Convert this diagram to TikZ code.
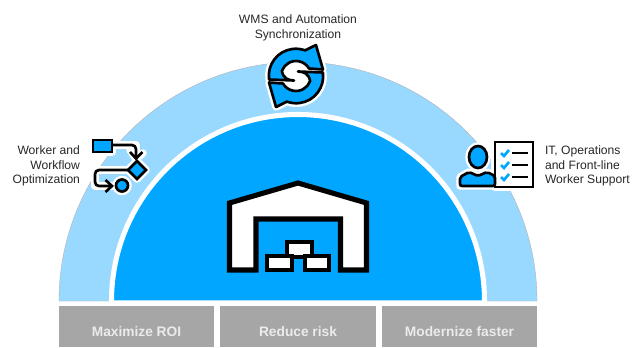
\documentclass[tikz,border=0pt]{standalone}
\usepackage{fontspec}
\setmainfont{Liberation Sans}
\definecolor{darkblue}{HTML}{00A6FF}
\definecolor{lightblue}{HTML}{99D9FF}
\definecolor{bargray}{HTML}{A6A6A6}
\definecolor{labeltext}{HTML}{262626}
\tikzset{
  halo/.style={draw=white,line width=5.6pt,line join=round,line cap=round},
  ink/.style={draw=black,line width=2pt,line join=miter},
  wire/.style={draw=black,line width=2pt,rounded corners=3},
  sidelabel/.style={text=labeltext,font=\fontsize{9.1}{11.1}\selectfont,inner sep=0,outer sep=0},
  bar/.style={fill=bargray,text=white!92!black,font=\fontsize{10.3}{11}\bfseries\selectfont,
    minimum width=#1*0.75pt,minimum height=41*0.75pt,inner sep=0,outer sep=0,
    text height=14.25pt,text depth=0pt}
}
\tikzset{warehouse/.pic={
        code={
        \draw[draw=black,fill=white,line width=3.8pt,line join=miter] (-68.5,37) -- (-68.5,-30) -- (0,-50) -- (68.5,-30) -- (68.5,37)
            -- (42.5,37) -- (42.5,-14) -- (-42,-14) -- (-42,37) -- cycle;
        \draw[draw=black,fill=white,line width=3.2pt] (-11,9) rectangle (14,24);
        \draw[draw=black,fill=white,line width=3.2pt] (-31,23) rectangle (-6,37);
        \draw[draw=black,fill=white,line width=3.2pt] (7,23) rectangle (31,37);
 	}
  }
}
\tikzset{syncicon/.pic={
        code={
        \foreach \a in {0,180} {
            \path[halo,rotate=\a] (-26.9,3.5) arc (172:290:27) -- (20,-31) -- (27,-6.5) -- (13,-7.5) arc (330:200:15)
                .. controls (-13,2) and (-8,4.5) .. (-2,4.5) -- cycle;
        }
        \fill[white] (0,0) circle (16);
        \foreach \a in {0,180} {
            \path[ink,line join=round,fill=darkblue,rotate=\a] (-26.9,3.5) arc (172:290:27) -- (20,-31) -- (27,-6.5) -- (13,-7.5) arc (330:200:15)
                .. controls (-13,2) and (-8,4.5) .. (-2,4.5) -- cycle;
        }
 	}
  }
}
\tikzset{flowicon/.pic={
        code={
        % halo
        \draw[halo] (-22,-20) rectangle (-3,-8);
        \draw[halo] (-3,-15) -- (21,-15) -- (21,-1);
        \draw[halo] (15,-10) -- (21,-1) -- (28,-7);
        \draw[halo] (12,10) -- (-20,10) -- (-20,26) -- (-3,26);
        \draw[halo] (22,1) -- (31,10) -- (22,19) -- (13,10) -- cycle;
        \draw[halo] (7,25.5) circle (6);
        % shapes
        \draw[ink,fill=darkblue] (-22,-20) rectangle (-3,-8);
        \draw[wire] (-3,-15) -- (21,-15) -- (21,-2);
        \draw[ink] (15,-8) -- (21,-1.5) -- (27.5,-8);
        \draw[ink,fill=darkblue] (22,1) -- (31,10) -- (22,19) -- (13,10) -- cycle;
        \draw[wire] (13,10) -- (-20,10) -- (-20,26) -- (-4,26);
        \draw[ink] (-9.5,20) -- (-3,26) -- (-9.5,32);
        \draw[ink,fill=darkblue] (7,25.5) circle (6);
 	}
  }
}
\tikzset{supporticon/.pic={
        code={
        % halo
        \draw[halo] (-1,-23) rectangle (37,22);
        \draw[halo] (-18,-8) ellipse (9 and 11);
        \draw[halo] (-36,21) -- (-36,12) -- (-27,7) -- (-18,11) -- (-9,7) -- (-1,11) -- (-1,21) -- cycle;
        % sheet
        \draw[ink,fill=white] (-1,-23) rectangle (37,22);
        \foreach \y in {-12,0,12} {
            \draw[draw=darkblue,line width=2pt] (5,\y) -- (8,\y+3) -- (13,\y-3);
            \draw[draw=black,line width=2.2pt] (16,\y) -- (32,\y);
        }
        % person
        \draw[ink,fill=darkblue] (-18,-8) ellipse (9 and 11);
        \draw[ink,fill=darkblue,rounded corners=1.5] (-36,21) -- (-36,12) -- (-27,7) -- (-18,11) -- (-9,7) -- (-1,11) -- (-1,21) -- cycle;
 	}
  }
}
\begin{document}
\begin{tikzpicture}[x=0.75pt,y=-0.75pt]
\useasboundingbox (0,0) rectangle (639,347);
% Arches
\path[fill=lightblue,draw=black!30,line width=0.3pt] (59,301) arc (180:360:239) -- cycle;
\path[fill=darkblue,draw=white,line width=3.8pt] (111.5,303) -- (111.5,301) arc (180:360:186.5) -- (484.5,303) -- cycle;
% Bars
\node[bar=155] (roi) at (136.5,326.5) {Maximize ROI};
\node[bar=156] (risk) at (298,326.5) {Reduce risk};
\node[bar=155] (faster) at (459.5,326.5) {Modernize faster};
% Warehouse
\path (298,233) pic[local bounding box=house] {warehouse};
% Icons
\path (296,76) pic[local bounding box=sync] {syncicon};
\path (115,160) pic[local bounding box=flow] {flowicon};
\path (496,165) pic[local bounding box=support] {supporticon};
% Labels
\node[sidelabel,align=center] (synclabel) at (298,27.5) {WMS and Automation\\Synchronization};
\node[sidelabel,align=right,anchor=east] (flowlabel) at (80,166) {Worker and\\Workflow\\Optimization};
\node[sidelabel,align=left,anchor=west] (supportlabel) at (545,166) {IT, Operations\\and Front-line\\Worker Support};
\end{tikzpicture}
\end{document}
